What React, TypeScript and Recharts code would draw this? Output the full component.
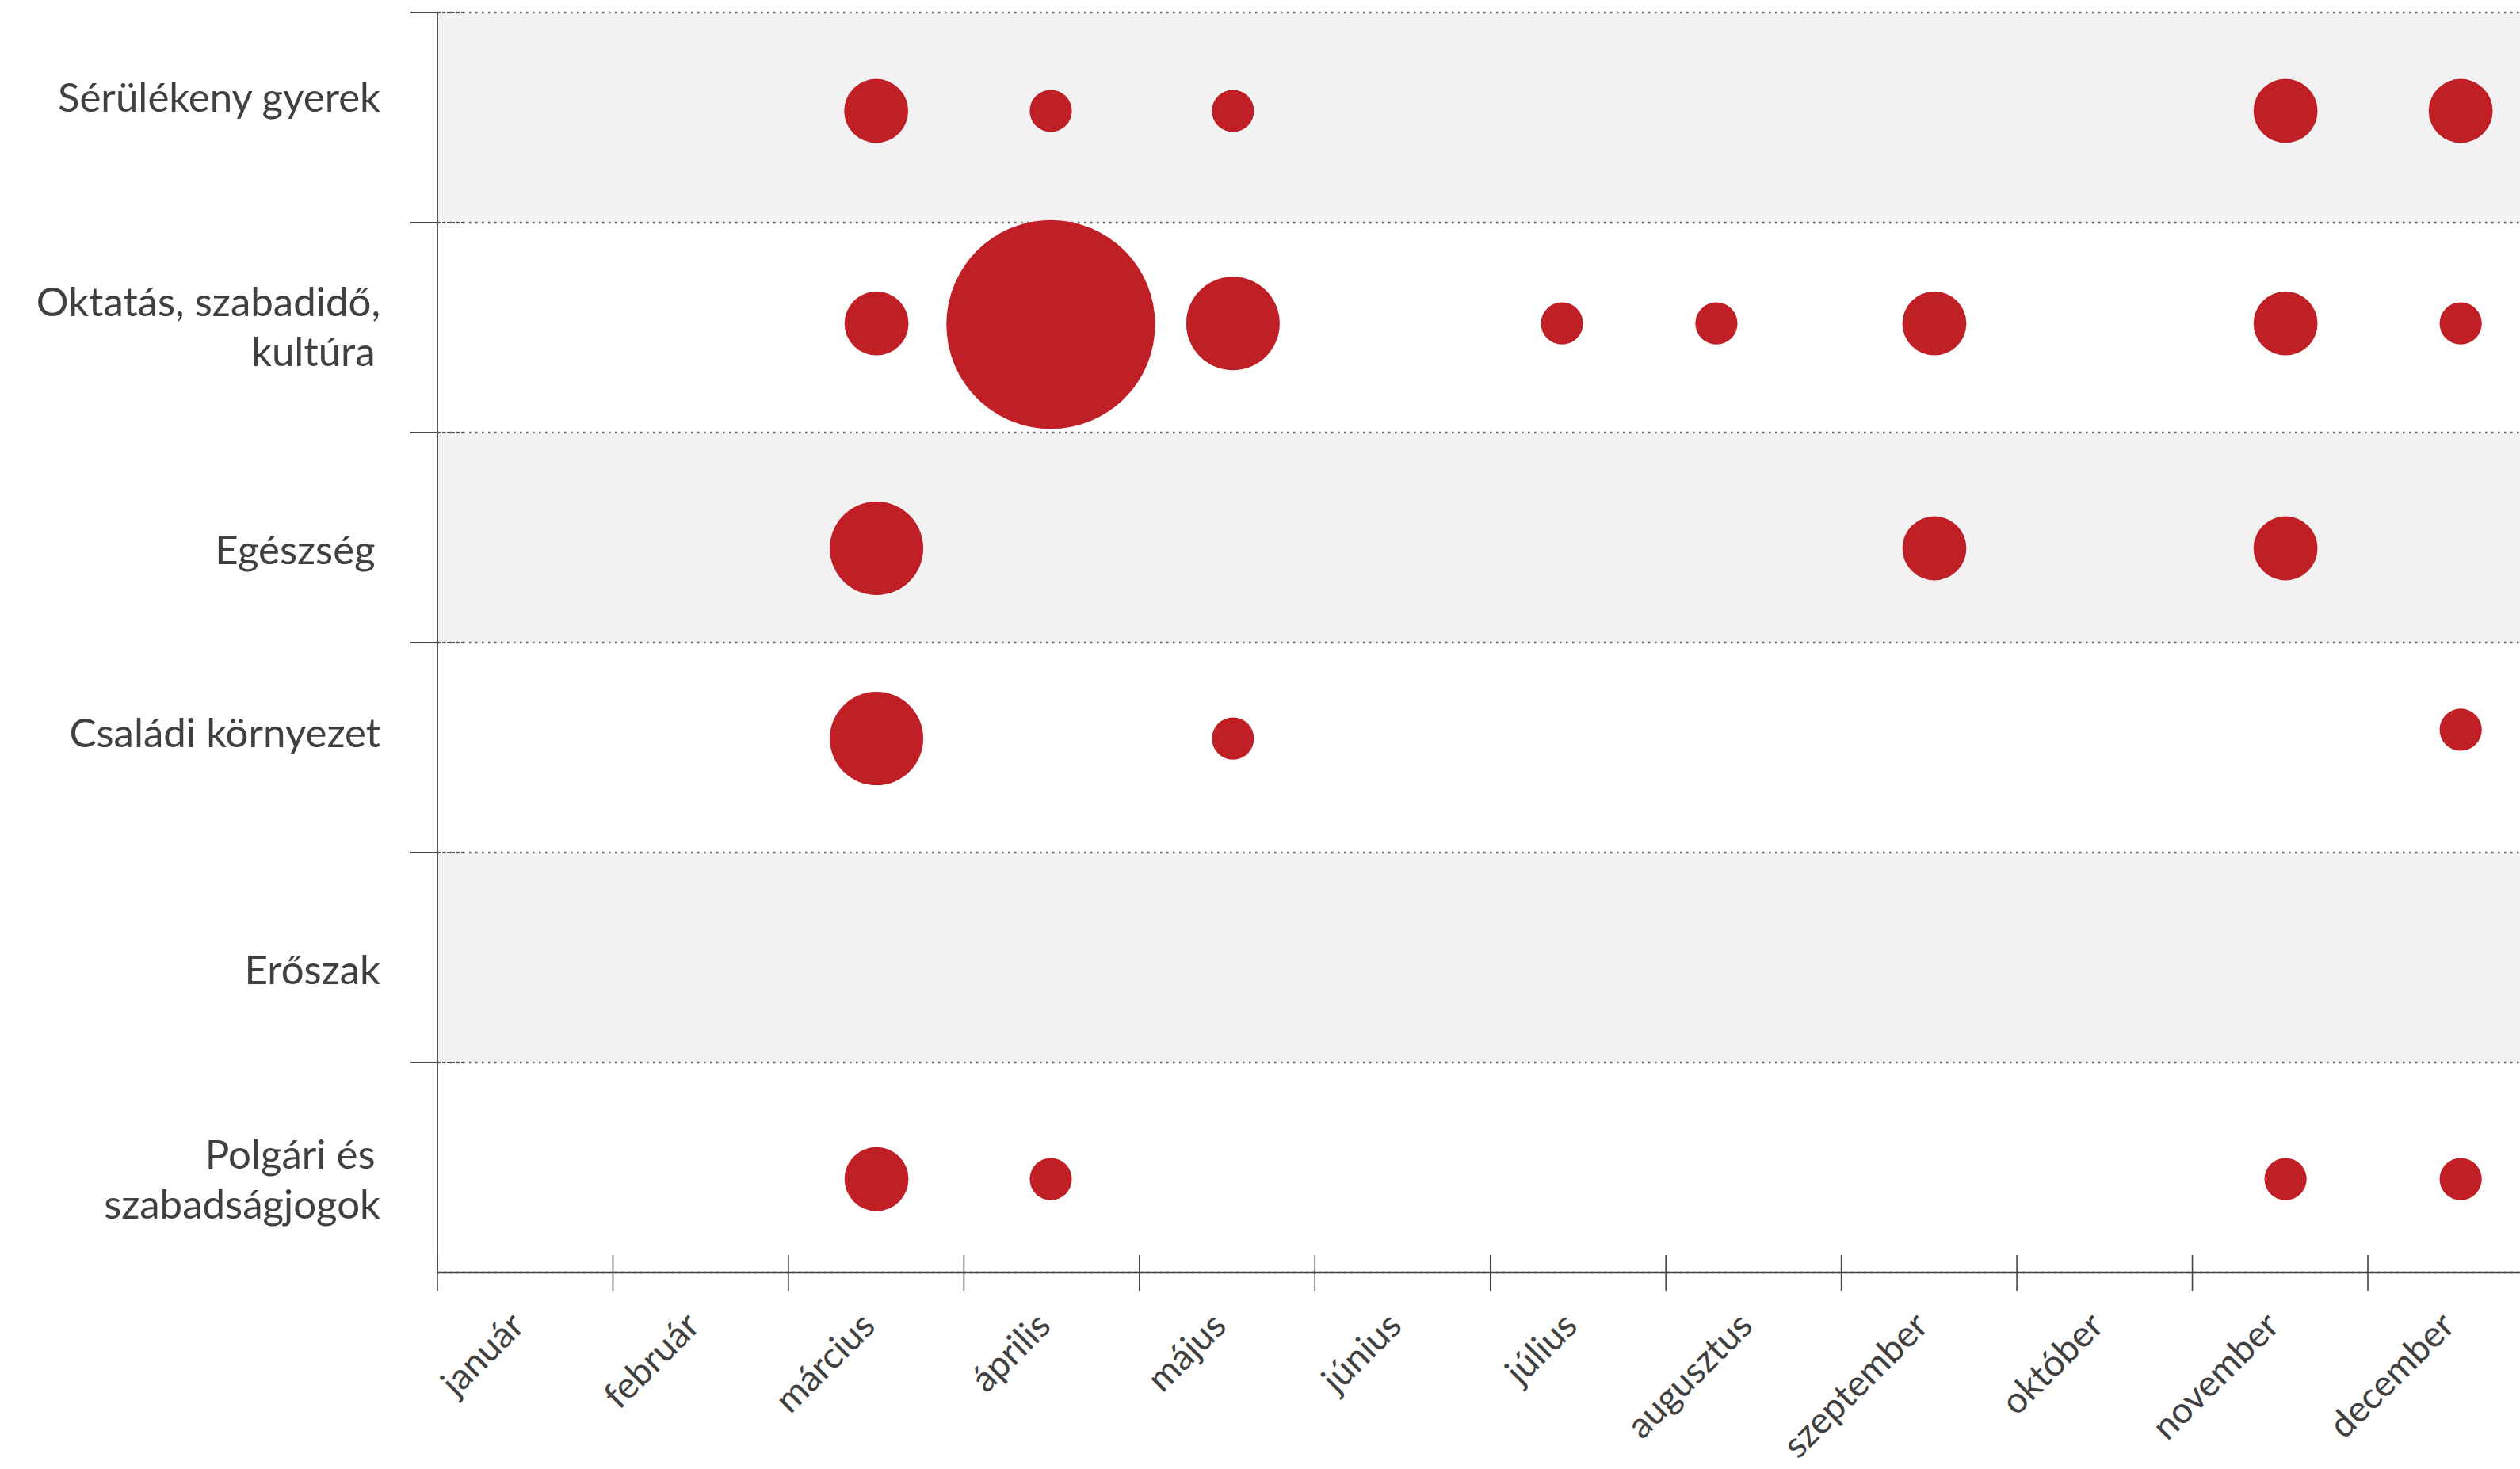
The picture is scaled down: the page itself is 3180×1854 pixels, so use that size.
import { ScatterChart, Scatter, XAxis, YAxis, ZAxis, CartesianGrid } from 'recharts';

const MONTHS = [
  'január', 'február', 'március', 'április', 'május', 'június',
  'július', 'augusztus', 'szeptember', 'október', 'november', 'december',
];
const MONTH_TICKS = [0, 1, 2, 3, 4, 5, 6, 7, 8, 9, 10, 11];
const ROW_TICKS = [1, 2, 3, 4, 5, 6];

const CATEGORY_LINES = [
  ['Sérülékeny gyerek'],
  ['Oktatás, szabadidő,', 'kultúra\u2009'],
  ['Egészség\u2009'],
  ['Családi környezet'],
  ['Erőszak'],
  ['Polgári és\u2009', 'szabadságjogok'],
];
const CATEGORY_Y = [5.596, 4.502, 3.442, 2.57, 1.443, 0.442];

// Sérülékeny gyerek
const vulnerableMonth = [2.5, 3.495, 4.533, 10.531, 11.529];
const vulnerableRow = [5.532, 5.532, 5.532, 5.532, 5.532];
const vulnerableCount = [2, 1, 1, 2, 2];

// Oktatás, szabadidő, kultúra
const educationMonth = [2.502, 3.495, 4.533, 6.408, 7.288, 8.53, 10.531, 11.529];
const educationRow = [4.52, 4.515, 4.52, 4.52, 4.52, 4.52, 4.52, 4.52];
const educationCount = [2, 19, 4, 1, 1, 2, 2, 1];

// Egészség
const healthMonth = [2.502, 8.53, 10.531];
const healthRow = [3.449, 3.449, 3.449];
const healthCount = [4, 2, 2];

// Családi környezet
const familyMonth = [2.502, 4.533, 11.529];
const familyRow = [2.543, 2.543, 2.585];
const familyCount = [4, 1, 1];

// Polgári és szabadságjogok
const civilMonth = [2.502, 3.495, 10.531, 11.529];
const civilRow = [0.445, 0.445, 0.445, 0.445];
const civilCount = [2, 1, 1, 1];

const RED = '#c11f26';
const TEXT = '#404040';
const FONT = 'Lato, "Open Sans", sans-serif';

const toPoints = (month: number[], row: number[], count: number[]) =>
  month.map((x, i) => ({ x, y: row[i], z: count[i] }));

const series = [
  toPoints(vulnerableMonth, vulnerableRow, vulnerableCount),
  toPoints(educationMonth, educationRow, educationCount),
  toPoints(healthMonth, healthRow, healthCount),
  toPoints(familyMonth, familyRow, familyCount),
  toPoints(civilMonth, civilRow, civilCount),
];

// anchors for the category axis, so it has data of its own
const labelAnchors = CATEGORY_Y.map((y) => ({ x: 0, y }));

function MonthTick({ x, y, payload }: any) {
  const ax = x + 112;
  const ay = y + 70;
  return (
    <g>
      <line x1={x} x2={x} y1={y - 22} y2={y + 23} stroke="#444" strokeWidth={1.6} />
      <text
        x={ax}
        y={ay}
        textAnchor="end"
        transform={`rotate(-45 ${ax} ${ay})`}
        fontSize={46}
        fontFamily={FONT}
        fill={TEXT}
      >
        {MONTHS[payload.value]}
      </text>
    </g>
  );
}

function RowTick({ x, y }: any) {
  return (
    <g>
      <line x1={x - 34} x2={x} y1={y} y2={y} stroke="#444" strokeWidth={2} />
      <line x1={x} x2={x + 33} y1={y} y2={y} stroke="#555" strokeWidth={2} strokeDasharray="4 2" />
    </g>
  );
}

function CategoryTick({ x, y, payload }: any) {
  let idx = CATEGORY_Y.indexOf(payload.value);
  if (idx < 0) idx = CATEGORY_Y.findIndex((v) => Math.abs(v - payload.value) < 1e-6);
  const lines = CATEGORY_LINES[idx] || [];
  const lh = 63;
  const first = -((lines.length - 1) * lh) / 2 + 18;
  return (
    <text
      x={x - 28}
      y={y}
      textAnchor="end"
      fontSize={51}
      fontFamily={FONT}
      fill={TEXT}
      style={{ whiteSpace: 'pre' }}
    >
      {lines.map((l, i) => (
        <tspan key={i} x={x - 28} y={y + first + i * lh}>
          {l}
        </tspan>
      ))}
    </text>
  );
}

export default function App() {
  return (
    <div style={{ position: 'absolute', left: 0, top: 0 }}>
      <ScatterChart width={3180} height={1854} margin={{ top: 16, right: 0, bottom: 0, left: 0 }}>
        <CartesianGrid
          yAxisId="bands"
          vertical={false}
          horizontalFill={['#f2f2f2', '#ffffff']}
          fillOpacity={1}
          stroke="#666"
          strokeWidth={2.5}
          strokeDasharray="2.5 5.5"
        />
        <XAxis
          type="number"
          dataKey="x"
          domain={[0, 11.867]}
          ticks={MONTH_TICKS}
          interval={0}
          height={248}
          tickSize={0}
          tickMargin={0}
          tickLine={false}
          axisLine={{ stroke: '#444', strokeWidth: 2.5 }}
          tick={<MonthTick />}
        />
        <YAxis
          yAxisId="bands"
          type="number"
          dataKey="y"
          domain={[0, 6]}
          ticks={ROW_TICKS}
          interval={0}
          width={44}
          tickSize={0}
          tickMargin={0}
          tickLine={false}
          axisLine={{ stroke: '#444', strokeWidth: 1.8 }}
          tick={<RowTick />}
        />
        <YAxis
          yAxisId="labels"
          type="number"
          dataKey="y"
          domain={[0, 6]}
          allowDataOverflow
          ticks={CATEGORY_Y}
          interval={0}
          width={508}
          tickSize={0}
          tickMargin={0}
          tickLine={false}
          axisLine={false}
          tick={<CategoryTick />}
        />
        <ZAxis type="number" dataKey="z" domain={[1, 19]} range={[2223, 54490]} />
        {series.map((data, i) => (
          <Scatter key={i} yAxisId="bands" data={data} fill={RED} isAnimationActive={false} />
        ))}
        <Scatter
          yAxisId="labels"
          data={labelAnchors}
          fill="none"
          shape={() => <g />}
          isAnimationActive={false}
        />
      </ScatterChart>
    </div>
  );
}
